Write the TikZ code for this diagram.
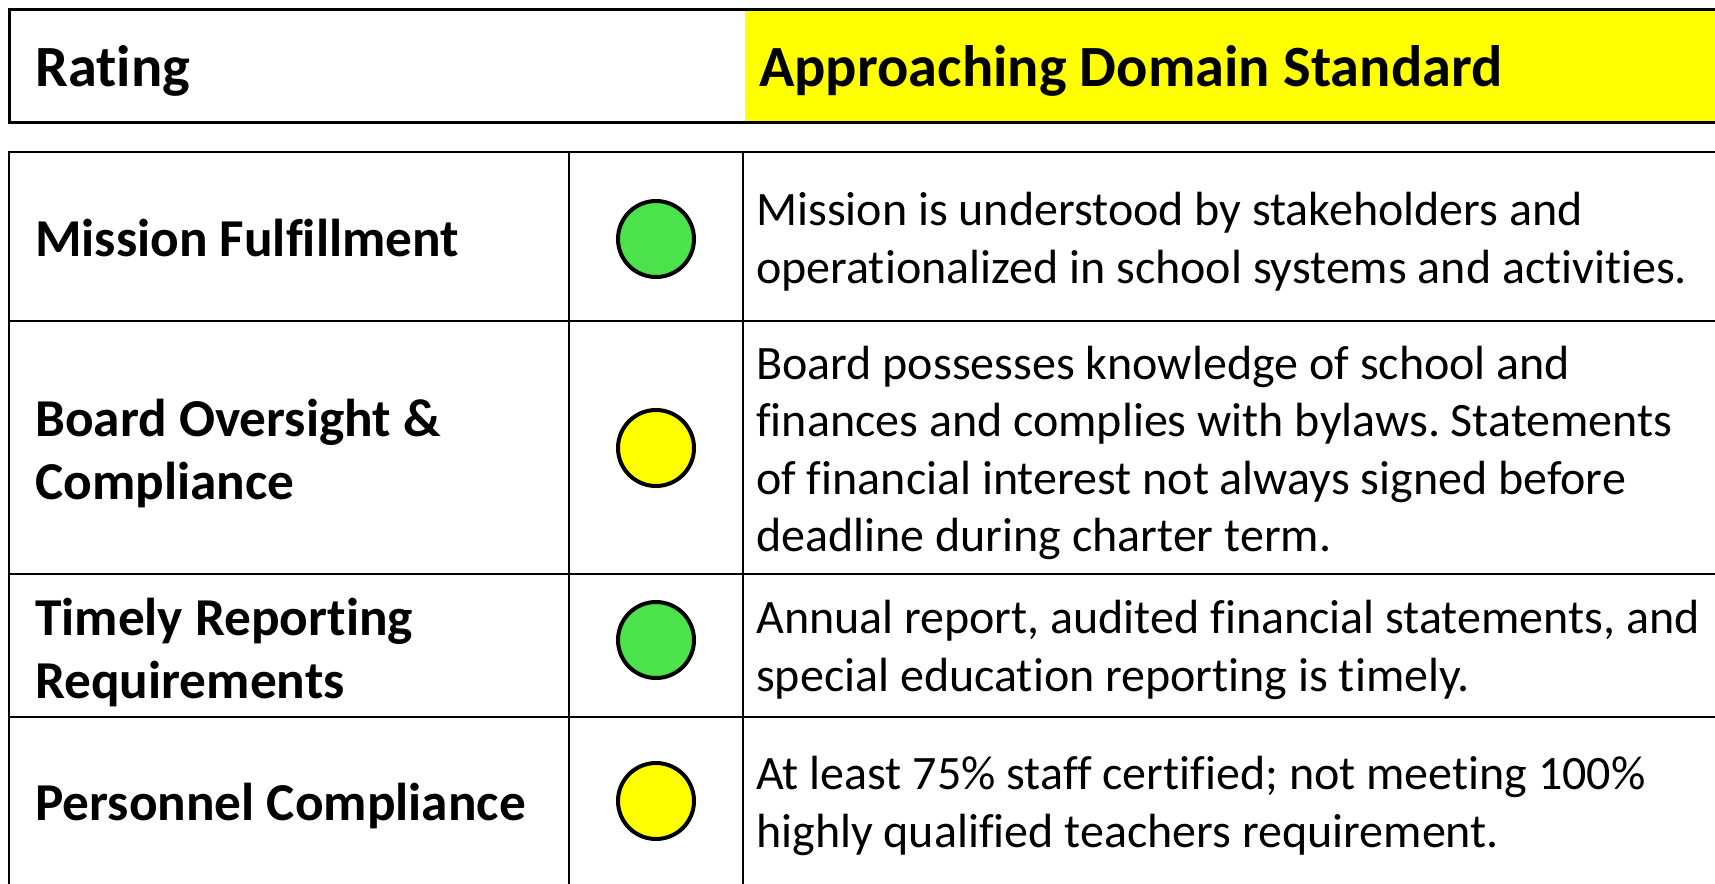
\documentclass[tikz,border=0pt]{standalone}
\usepackage{fontspec}
\setmainfont{Carlito}[Ligatures={NoCommon}]
\frenchspacing
\definecolor{dotgreen}{RGB}{76,226,76}
\definecolor{hdryellow}{RGB}{255,255,0}
\begin{document}
\begin{tikzpicture}[x=1pt,y=-1pt,
  hdr/.style={anchor=west, inner sep=0pt, font=\fontsize{58.4}{70}\selectfont\bfseries},
  lbl/.style={anchor=west, align=left, inner sep=0pt, font=\fontsize{53.3}{63}\selectfont\bfseries},
  desc/.style={anchor=west, align=left, inner sep=0pt, font=\fontsize{48}{57.6}\selectfont},
  dot/.style={circle, draw=black, line width=4pt, minimum size=76pt, inner sep=0pt},
  gridline/.style={line width=2pt, black},
  boxline/.style={line width=3pt, black}]
\useasboundingbox (0,0) rectangle (1715,883);
% header bar
\fill[hdryellow] (745,9) rectangle (1716,122);
\draw[boxline] (1717,9.5) -- (9.5,9.5) -- (9.5,122) -- (1717,122);
\node[hdr] (rating) at (35,71) {Rating};
\node[hdr] (standard) at (759,71) {Approaching Domain Standard};
% table grid
\draw[gridline] (1717,152) -- (9,152) -- (9,885);
\draw[gridline] (569,152) -- (569,885);
\draw[gridline] (743,152) -- (743,885);
\draw[gridline] (9,321) -- (1717,321);
\draw[gridline] (9,574) -- (1717,574);
\draw[gridline] (9,717) -- (1717,717);
% row labels
\node[lbl] (l1) at (35,238) {Mission Fulfillment};
\node[lbl] (l2) at (35,453) {Board Oversight \&\\Compliance};
\node[lbl] (l3) at (35,652) {Timely Reporting\\Requirements};
\node[lbl] (l4) at (35,806) {Personnel Compliance};
% rating dots
\node[dot, fill=dotgreen] (d1) at (656,239) {};
\node[dot, fill=hdryellow] (d2) at (656,448) {};
\node[dot, fill=dotgreen] (d3) at (656,640) {};
\node[dot, fill=hdryellow] (d4) at (656,801) {};
% descriptions
\node[desc] (t1) at (756,242) {Mission is understood by stakeholders and\\operationalized in school systems and activities.};
\node[desc] (t2) at (756,453) {Board possesses knowledge of school and\\finances and complies with bylaws. Statements\\of financial interest not always signed before\\deadline during charter term.};
\node[desc] (t3) at (756,650) {Annual report, audited financial statements, and\\special education reporting is timely.};
\node[desc] (t4) at (756,806) {At least 75\% staff certified; not meeting 100\%\\highly qualified teachers requirement.};
\end{tikzpicture}
\end{document}
